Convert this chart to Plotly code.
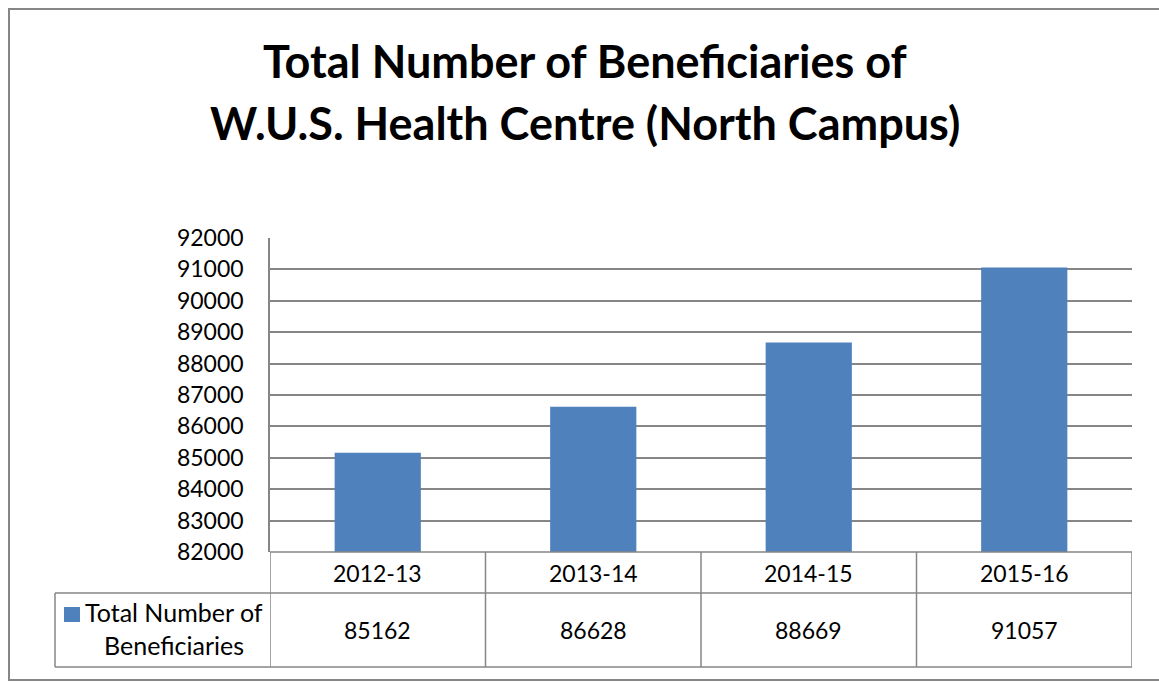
import plotly.graph_objects as go

# ---- data ----
categories = ["2012-13", "2013-14", "2014-15", "2015-16"]
beneficiaries = [85162, 86628, 88669, 91057]
series_name_lines = ["Total Number of", "Beneficiaries"]
title_lines = ["Total Number of Beneficiaries of", "W.U.S. Health Centre (North Campus)"]
y_min, y_max, y_step = 82000, 92000, 1000

# ---- geometry helpers (pixel -> paper) ----
W, H = 1159, 682
def px(x):
    return x / W
def py(y):
    return 1 - y / H

FONT = "Lato"
GRID = "#868686"
BAR = "#4F81BD"

plot_left, plot_right = 270, 1132
plot_top, plot_bottom = 238, 552
row1_bottom, row2_bottom = 593, 667
legend_left = 55

fig = go.Figure()
fig.add_trace(go.Bar(
    x=categories, y=beneficiaries,
    marker=dict(color=BAR, line=dict(width=0)),
    name=" ".join(series_name_lines),
    showlegend=False,
))

shapes = []
annotations = []
line_style = dict(color=GRID, width=1.5)

# outer chart border
shapes.append(dict(type="rect", xref="paper", yref="paper",
                   x0=px(9), x1=px(1170), y0=py(680), y1=py(9),
                   line=dict(color=GRID, width=2), fillcolor="rgba(0,0,0,0)"))

# table horizontal lines
shapes.append(dict(type="line", xref="paper", yref="paper", x0=px(plot_left), x1=px(plot_right),
                   y0=py(plot_bottom), y1=py(plot_bottom), line=line_style))
for yy in (row1_bottom, row2_bottom):
    shapes.append(dict(type="line", xref="paper", yref="paper", x0=px(legend_left), x1=px(plot_right),
                       y0=py(yy), y1=py(yy), line=line_style))
# legend cell left border
shapes.append(dict(type="line", xref="paper", yref="paper", x0=px(legend_left), x1=px(legend_left),
                   y0=py(row2_bottom), y1=py(row1_bottom), line=line_style))
# column boundaries from the category axis
for i in range(len(categories) + 1):
    shapes.append(dict(type="line", xref="x", yref="paper", x0=i - 0.5, x1=i - 0.5,
                       y0=py(row2_bottom), y1=py(plot_bottom), line=line_style))

# category labels & values in the table
for cat, val in zip(categories, beneficiaries):
    annotations.append(dict(xref="x", yref="paper", x=cat, y=py((plot_bottom + row1_bottom) / 2),
                            text=cat, showarrow=False, xanchor="center", yanchor="middle",
                            font=dict(family=FONT, size=23, color="black")))
    annotations.append(dict(xref="x", yref="paper", x=cat, y=py((row1_bottom + row2_bottom) / 2),
                            text=str(val), showarrow=False, xanchor="center", yanchor="middle",
                            font=dict(family=FONT, size=23, color="black")))

# legend key + series name
shapes.append(dict(type="rect", xref="paper", yref="paper", x0=px(64), x1=px(80),
                   y0=py(622), y1=py(607), line=dict(width=0), fillcolor=BAR))
for txt, yc in zip(series_name_lines, (612, 645)):
    annotations.append(dict(xref="paper", yref="paper", x=px(174), y=py(yc), text=txt,
                            showarrow=False, xanchor="center", yanchor="middle",
                            font=dict(family=FONT, size=25, color="black")))

# title
for txt, yc in zip(title_lines, (61, 123)):
    annotations.append(dict(xref="paper", yref="paper", x=px(585), y=py(yc), text="<b>" + txt + "</b>",
                            showarrow=False, xanchor="center", yanchor="middle",
                            font=dict(family=FONT, size=45, color="black")))

fig.update_layout(
    width=W, height=H,
    margin=dict(l=0, r=0, t=0, b=0, pad=0, autoexpand=False),
    paper_bgcolor="white", plot_bgcolor="white",
    bargap=0.6,
    shapes=shapes, annotations=annotations,
    xaxis=dict(domain=[px(plot_left), px(plot_right)], showticklabels=False, showgrid=False,
               zeroline=False, showline=False, ticks="", fixedrange=True, automargin=False,
               range=[-0.5, len(categories) - 0.5]),
    yaxis=dict(domain=[py(plot_bottom), py(plot_top)], range=[y_min, y_max], dtick=y_step,
               tick0=y_min, tickformat="d", showgrid=True, gridcolor=GRID, gridwidth=1.5,
               zeroline=False, showline=True, linecolor=GRID, linewidth=1.5, automargin=False,
               ticks="outside", ticklen=20, tickcolor="rgba(0,0,0,0)",
               tickfont=dict(family=FONT, size=23, color="black"), fixedrange=True),
)

fig.write_html("out.html", config={"displayModeBar": False},
               post_script="document.body.style.margin='0';document.body.style.padding='0';"
                           "document.body.style.overflow='hidden';")
